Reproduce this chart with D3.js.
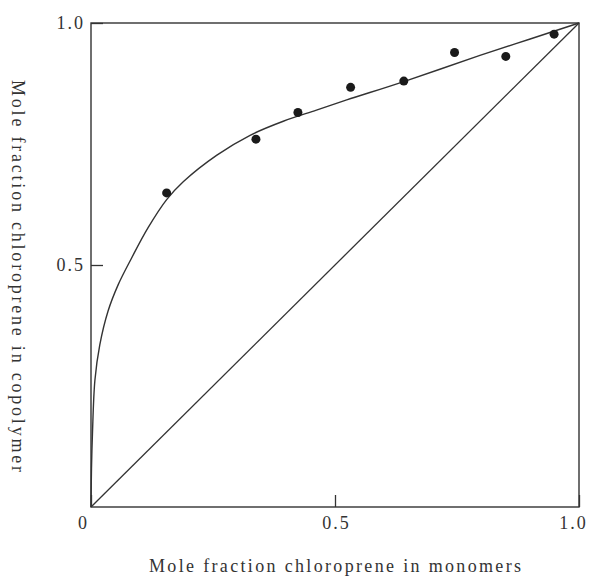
<!DOCTYPE html>
<html>
<head>
<meta charset="utf-8">
<script src="https://cdn.jsdelivr.net/npm/d3@7"></script>
<style>
  html, body { margin: 0; padding: 0; background: #fff; }
  svg text { font-family: "Liberation Serif", "DejaVu Serif", serif; fill: #333; }
</style>
</head>
<body>
<svg id="chart" width="593" height="576"></svg>
<script>
// measured copolymer composition (monomer feed fraction, copolymer fraction)
const feedFraction = [0.155, 0.338, 0.424, 0.532, 0.641, 0.745, 0.850, 0.949];
const copolymerFraction = [0.649, 0.760, 0.815, 0.867, 0.880, 0.939, 0.931, 0.977];

// drawn composition curve
const curveX = [0, 0.001, 0.003, 0.008, 0.018, 0.035, 0.056, 0.083, 0.117, 0.155, 0.189, 0.258, 0.326, 0.394, 0.462, 0.524, 0.641, 0.797, 0.9, 1];
const curveY = [0, 0.08, 0.152, 0.262, 0.335, 0.405, 0.46, 0.514, 0.577, 0.635, 0.672, 0.727, 0.768, 0.797, 0.82, 0.841, 0.879, 0.933, 0.967, 1];

const xTickValues = [0, 0.5, 1];
const xTickLabels = ['0', '0.5', '1.0'];
const yTickValues = [0.5, 1];
const yTickLabels = ['0.5', '1.0'];

const svg = d3.select('#chart');
const margin = { top: 23, right: 14, bottom: 69, left: 91 };
const width = 593;
const height = 576;
const ink = '#333';

const x = d3.scaleLinear().domain([0, 1]).range([margin.left, width - margin.right]);
const y = d3.scaleLinear().domain([0, 1]).range([height - margin.bottom, margin.top]);

// frame
svg.append('rect')
  .attr('x', x(0)).attr('y', y(1))
  .attr('width', x(1) - x(0)).attr('height', y(0) - y(1))
  .attr('fill', 'none').attr('stroke', ink).attr('stroke-width', 1.4);

const xAxis = svg.append('g')
  .attr('transform', `translate(0,${y(0)})`)
  .call(d3.axisBottom(x).tickValues(xTickValues)
    .tickFormat((d, i) => xTickLabels[i]).tickSize(-12).tickPadding(9));
xAxis.select('.domain').remove();
xAxis.selectAll('line').attr('stroke', ink).attr('stroke-width', 1.3);
xAxis.selectAll('text')
  .attr('font-size', 18).attr('letter-spacing', 2).attr('fill', ink)
  .attr('dx', (d) => (d === 0 ? -8 : d === 1 ? -6 : 1));

const yAxis = svg.append('g')
  .attr('transform', `translate(${x(0)},0)`)
  .call(d3.axisLeft(y).tickValues(yTickValues)
    .tickFormat((d, i) => yTickLabels[i]).tickSize(-12).tickPadding(6));
yAxis.select('.domain').remove();
yAxis.selectAll('line').attr('stroke', ink).attr('stroke-width', 1.3);
yAxis.selectAll('text')
  .attr('font-size', 18).attr('letter-spacing', 2).attr('fill', ink);

// diagonal (F = f)
svg.append('path')
  .datum([0, 1])
  .attr('d', d3.line().x((d) => x(d)).y((d) => y(d)))
  .attr('fill', 'none').attr('stroke', ink).attr('stroke-width', 1.3);

// composition curve
svg.append('path')
  .datum(curveX.map((d, i) => [d, curveY[i]]))
  .attr('d', d3.line().x((d) => x(d[0])).y((d) => y(d[1])).curve(d3.curveCatmullRom.alpha(0.5)))
  .attr('fill', 'none').attr('stroke', ink).attr('stroke-width', 1.4);

// data points
svg.append('g')
  .selectAll('circle')
  .data(feedFraction.map((d, i) => [d, copolymerFraction[i]]))
  .join('circle')
  .attr('cx', (d) => x(d[0]))
  .attr('cy', (d) => y(d[1]))
  .attr('r', 4.5)
  .attr('fill', '#1a1a1a');

// axis titles
svg.append('text')
  .attr('x', 335).attr('y', 572)
  .attr('text-anchor', 'middle')
  .attr('font-size', 18)
  .attr('textLength', 372).attr('lengthAdjust', 'spacing')
  .text('Mole fraction chloroprene in monomers');

svg.append('text')
  .attr('transform', 'translate(12,276) rotate(90)')
  .attr('text-anchor', 'middle')
  .attr('font-size', 18)
  .attr('textLength', 392).attr('lengthAdjust', 'spacing')
  .text('Mole fraction chloroprene in copolymer');
</script>
</body>
</html>
